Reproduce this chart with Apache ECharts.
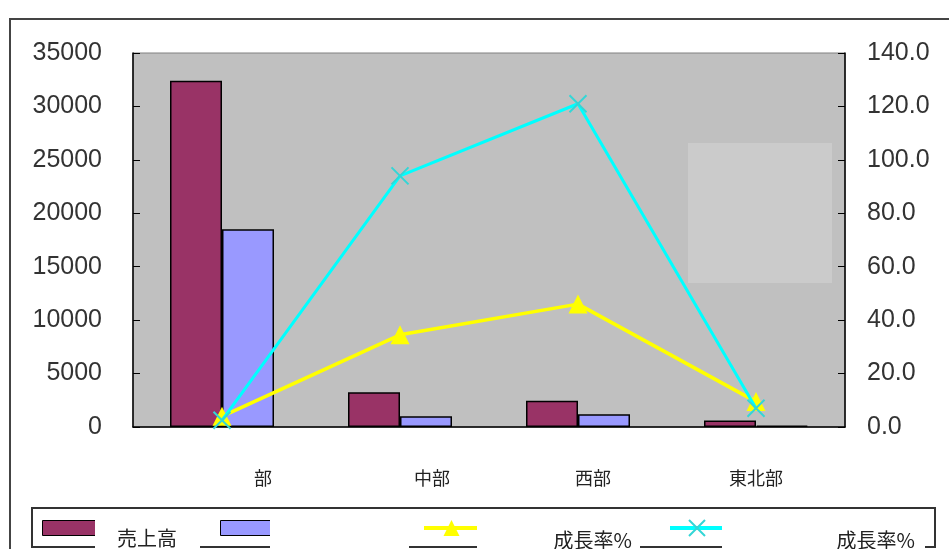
<!DOCTYPE html>
<html>
<head>
<meta charset="utf-8">
<script src="https://cdn.jsdelivr.net/npm/echarts@6/dist/echarts.min.js"></script>
<style>
  html, body { margin: 0; padding: 0; background: #fff; }
  #chart { width: 949px; height: 549px; }
</style>
</head>
<body>
<div id="chart"></div>
<script>
// Regions along the category axis
const categories = ['部', '中部', '西部', '東北部'];

// Bar series (left axis)
const salesName = '売上高';
const salesValues = [32400, 3250, 2450, 600];
const profitName = '利益';
const profitValues = [18500, 1000, 1200, 120];

// Growth-rate lines (right axis, %)
const salesGrowthName = '売上高成長率%';
const salesGrowthValues = [4, 34.5, 46, 9.5];
const profitGrowthName = '利益成長率%';
const profitGrowthValues = [2.5, 94, 121, 7];

// Tick ranges
const leftAxis = { min: 0, max: 35000, interval: 5000 };
const rightAxis = { min: 0, max: 140, interval: 20 };

const AXIS_FONT = 'Liberation Sans, Arial, sans-serif';
const CJK_FONT = '"Noto Sans CJK JP", "Noto Sans", sans-serif';
const CROSS = 'path://M0,0L10,10M10,0L0,10';

// per-label horizontal shift of the category captions
const labelShift = [82, 64, 30, 0];
const rich = {};
labelShift.forEach((p, i) => {
  rich['c' + i] = { padding: [0, 0, 0, p], fontSize: 18, fontFamily: CJK_FONT, color: '#222' };
});

const chart = echarts.init(document.getElementById('chart'), null, { renderer: 'canvas' });

function iconLegend(name, left, top, w, h, extra) {
  return Object.assign({
    data: [name], left: left, top: top, padding: 0,
    itemWidth: w, itemHeight: h, selectedMode: false,
    formatter: () => '', textStyle: { fontSize: 1 }
  }, extra || {});
}

chart.setOption({
  animation: false,
  backgroundColor: '#ffffff',
  grid: {
    left: 133, right: 104, top: 53, bottom: 122,
    show: true, backgroundColor: '#C0C0C0', borderColor: '#808080', borderWidth: 1
  },
  legend: [
    iconLegend(salesName, 42, 520, 53, 15, { icon: 'rect', itemStyle: { borderColor: '#000', borderWidth: 1 } }),
    iconLegend(profitName, 220, 520, 50, 15, { icon: 'rect', itemStyle: { borderColor: '#000', borderWidth: 1 } }),
    iconLegend(salesGrowthName, 422, 518, 55, 20, { lineStyle: { width: 4 } }),
    iconLegend(profitGrowthName, 668, 518, 54, 20, { lineStyle: { width: 4 } })
  ],
  xAxis: {
    type: 'category',
    data: categories,
    axisLine: { lineStyle: { color: '#000', width: 1.5 } },
    axisTick: { inside: true, length: 6, lineStyle: { color: '#000' } },
    axisLabel: {
      margin: 42,
      formatter: (v, i) => '{c' + i + '|' + v + '}',
      rich: rich
    },
    splitLine: { show: false }
  },
  yAxis: [
    {
      type: 'value', min: leftAxis.min, max: leftAxis.max, interval: leftAxis.interval,
      axisLine: { show: true, lineStyle: { color: '#000', width: 1.5 } },
      axisTick: { show: true, inside: true, length: 7, lineStyle: { color: '#000' } },
      axisLabel: { margin: 31, fontSize: 25, fontFamily: AXIS_FONT, color: '#333',
        formatter: v => String(v) },
      splitLine: { show: false }
    },
    {
      type: 'value', min: rightAxis.min, max: rightAxis.max, interval: rightAxis.interval,
      position: 'right',
      axisLine: { show: true, lineStyle: { color: '#000', width: 1.5 } },
      axisTick: { show: true, inside: true, length: 7, lineStyle: { color: '#000' } },
      axisLabel: { margin: 22, fontSize: 25, fontFamily: AXIS_FONT, color: '#333',
        formatter: v => v.toFixed(1) },
      splitLine: { show: false }
    }
  ],
  series: [
    {
      name: salesName, type: 'bar', yAxisIndex: 0, data: salesValues,
      barWidth: 52, barGap: '0%',
      itemStyle: { color: '#993366', borderColor: '#000', borderWidth: 1.5 }
    },
    {
      name: profitName, type: 'bar', yAxisIndex: 0, data: profitValues,
      barWidth: 52, barGap: '0%',
      itemStyle: { color: '#9999FF', borderColor: '#000', borderWidth: 1.5 }
    },
    {
      name: salesGrowthName, type: 'line', yAxisIndex: 1, data: salesGrowthValues,
      symbol: 'triangle', symbolSize: 19,
      lineStyle: { color: '#FFFF00', width: 3.5 },
      itemStyle: { color: '#FFFF00' },
      z: 3
    },
    {
      name: profitGrowthName, type: 'line', yAxisIndex: 1, data: profitGrowthValues,
      symbol: CROSS, symbolSize: 17,
      lineStyle: { color: '#00FFFF', width: 3 },
      itemStyle: { color: '#33D6D6', borderColor: '#33D6D6', borderWidth: 2 },
      z: 4
    }
  ],
  graphic: [
    // outer chart frame
    { type: 'rect', z: 0, shape: { x: 10, y: 19, width: 960, height: 560 },
      style: { fill: null, stroke: '#444', lineWidth: 2 } },
    // lighter panel inside the plot
    { type: 'rect', z: 1, shape: { x: 688, y: 143, width: 144, height: 140 },
      style: { fill: '#CBCBCB' } },
    // legend frame
    { type: 'rect', z: 5, shape: { x: 32, y: 508, width: 903, height: 39 },
      style: { fill: null, stroke: '#333', lineWidth: 2 } },
    // white caption boxes in the legend
    { type: 'rect', z: 10, shape: { x: 95, y: 514, width: 105, height: 40 }, style: { fill: '#fff' } },
    { type: 'rect', z: 10, shape: { x: 270, y: 514, width: 139, height: 40 }, style: { fill: '#fff' } },
    { type: 'rect', z: 10, shape: { x: 477, y: 514, width: 163, height: 40 }, style: { fill: '#fff' } },
    { type: 'rect', z: 10, shape: { x: 722, y: 514, width: 203, height: 40 }, style: { fill: '#fff' } },
    // legend captions
    { type: 'text', z: 11, style: { text: salesName, x: 147, y: 538, align: 'center', verticalAlign: 'middle',
      font: '20px ' + CJK_FONT, fill: '#222' } },
    { type: 'text', z: 11, style: { text: '成長率%', x: 632, y: 540, align: 'right', verticalAlign: 'middle',
      font: '20px ' + CJK_FONT, fill: '#222' } },
    { type: 'text', z: 11, style: { text: '成長率%', x: 915, y: 540, align: 'right', verticalAlign: 'middle',
      font: '20px ' + CJK_FONT, fill: '#222' } }
  ]
});
</script>
</body>
</html>
